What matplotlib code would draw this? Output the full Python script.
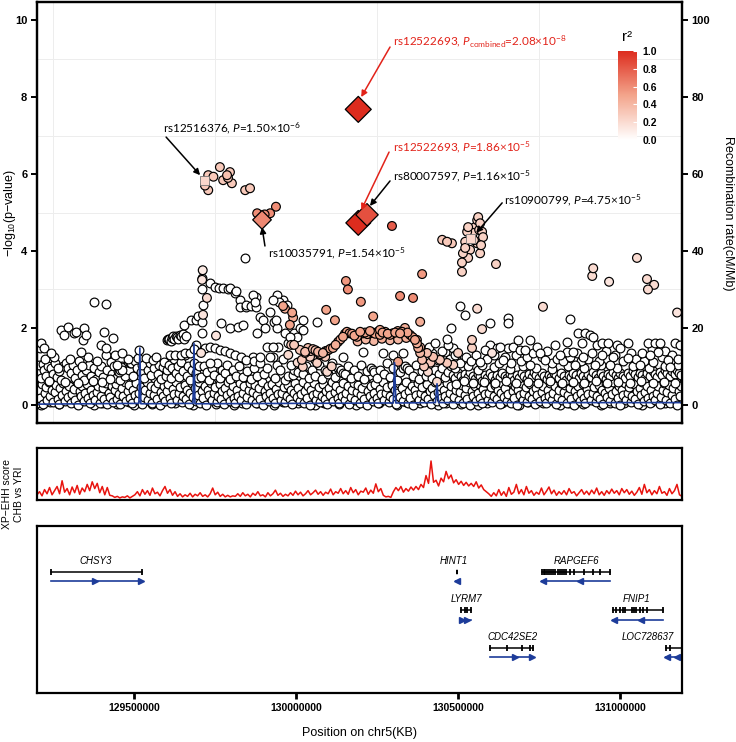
import numpy as np
import matplotlib.pyplot as plt
from matplotlib.colors import LinearSegmentedColormap, Normalize
from matplotlib.colorbar import ColorbarBase

plt.rcParams['font.family'] = ['Liberation Sans', 'DejaVu Sans']
plt.rcParams['mathtext.fontset'] = 'custom'
plt.rcParams['mathtext.rm'] = 'Lato'
plt.rcParams['mathtext.it'] = 'Lato:italic'

# ─────────────────────────────────────────────────────────────
# Data (positions in kb, chr5)
# ─────────────────────────────────────────────────────────────

# white points (r2 ~ 0): dense bottom band
white_low = [
    (129202, .05), (129206, .38), (129211, .18), (129215, .55), (129219, .02), (129224, .30), (129228, .47), (129233, .12),
    (129237, .60), (129242, .22), (129246, .40), (129251, .08), (129255, .33), (129260, .52), (129264, .15), (129269, .02),
    (129273, .44), (129278, .25), (129282, .58), (129287, .10), (129291, .35), (129296, .20), (129300, .50), (129305, .05),
    (129309, .28), (129314, .42), (129318, .14), (129323, .60), (129327, .00), (129332, .36), (129336, .22), (129341, .48),
    (129345, .10), (129350, .30), (129354, .55), (129359, .18), (129363, .04), (129368, .40), (129372, .26), (129377, .62),
    (129381, .12), (129386, .34), (129390, .50), (129395, .06), (129399, .24), (129404, .45), (129408, .15), (129413, .58),
    (129417, .02), (129422, .32), (129426, .20), (129431, .48), (129435, .08), (129440, .38), (129444, .55), (129449, .16),
    (129453, .28), (129458, .03), (129462, .44), (129467, .22), (129471, .60), (129476, .10), (129480, .35), (129485, .52),
    (129489, .18), (129494, .05), (129498, .40), (129503, .25), (129507, .57), (129512, .12), (129516, .32), (129521, .46),
    (129525, .02), (129530, .20), (129534, .38), (129539, .60), (129543, .14), (129548, .30), (129552, .50), (129557, .06),
    (129561, .26), (129566, .43), (129570, .16), (129575, .58), (129579, .00), (129584, .34), (129588, .22), (129593, .48),
    (129597, .10), (129602, .36), (129606, .55), (129611, .18), (129615, .04), (129620, .42), (129624, .28), (129629, .60),
    (129633, .12), (129638, .30), (129642, .46), (129647, .08), (129651, .24), (129656, .52), (129660, .15), (129665, .38),
    (129669, .02), (129674, .32), (129678, .56), (129683, .20), (129687, .44), (129692, .10), (129696, .27), (129701, .60),
    (129705, .05), (129710, .35), (129714, .18), (129719, .50), (129723, .00), (129728, .40), (129732, .25), (129737, .58),
    (129741, .12), (129746, .30), (129750, .47), (129755, .08), (129759, .22), (129764, .54), (129768, .16), (129773, .36),
    (129777, .03), (129782, .44), (129786, .26), (129791, .60), (129795, .10), (129800, .33), (129804, .50), (129809, .18),
    (129813, .06), (129818, .40), (129822, .24), (129827, .56), (129831, .14), (129836, .30), (129840, .48), (129845, .02),
    (129849, .20), (129854, .38), (129858, .58), (129863, .12), (129867, .34), (129872, .52), (129876, .06), (129881, .26),
    (129885, .44), (129890, .16), (129894, .60), (129899, .00), (129903, .36), (129908, .22), (129912, .48), (129917, .10),
    (129921, .30), (129926, .55), (129930, .18), (129935, .04), (129939, .42), (129944, .28), (129948, .60), (129953, .12),
    (129957, .32), (129962, .46), (129966, .08), (129971, .24), (129975, .52), (129980, .15), (129984, .38), (129989, .02),
    (129993, .32), (129998, .56), (130002, .20), (130007, .44), (130011, .10), (130016, .28), (130020, .60), (130025, .05),
    (130029, .35), (130034, .18), (130038, .50), (130043, .00), (130047, .40), (130052, .25), (130056, .58), (130061, .12),
    (130065, .30), (130070, .47), (130074, .08), (130079, .22), (130083, .54), (130088, .16), (130092, .36), (130097, .03),
    (130101, .44), (130106, .26), (130110, .60), (130115, .10), (130119, .33), (130124, .50), (130128, .18), (130133, .06),
    (130137, .40), (130142, .24), (130146, .56), (130151, .14), (130155, .30), (130160, .48), (130164, .02), (130169, .20),
    (130173, .38), (130178, .58), (130182, .12), (130187, .34), (130191, .52), (130196, .06), (130200, .26), (130205, .44),
    (130209, .16), (130214, .60), (130218, .00), (130223, .36), (130227, .22), (130232, .48), (130236, .10), (130241, .30),
    (130245, .55), (130250, .18), (130254, .04), (130259, .42), (130263, .28), (130268, .60), (130272, .12), (130277, .32),
    (130281, .46), (130286, .08), (130290, .24), (130295, .52), (130299, .15), (130304, .38), (130308, .02), (130313, .32),
    (130317, .56), (130322, .20), (130326, .44), (130331, .10), (130335, .28), (130340, .60), (130344, .05), (130349, .35),
    (130353, .18), (130358, .50), (130362, .00), (130367, .40), (130371, .25), (130376, .58), (130380, .12), (130385, .30),
    (130389, .47), (130394, .08), (130398, .22), (130403, .54), (130407, .16), (130412, .36), (130416, .03), (130421, .44),
    (130425, .26), (130430, .60), (130434, .10), (130439, .33), (130443, .50), (130448, .18), (130452, .06), (130457, .40),
    (130461, .24), (130466, .56), (130470, .14), (130475, .30), (130479, .48), (130484, .02), (130488, .20), (130493, .38),
    (130497, .58), (130502, .12), (130506, .34), (130511, .52), (130515, .06), (130520, .26), (130524, .44), (130529, .16),
    (130533, .60), (130538, .00), (130542, .36), (130547, .22), (130551, .48), (130556, .10), (130560, .30), (130565, .55),
    (130569, .18), (130574, .04), (130578, .42), (130583, .28), (130587, .60), (130592, .12), (130596, .32), (130601, .46),
    (130605, .08), (130610, .24), (130614, .52), (130619, .15), (130623, .38), (130628, .02), (130632, .32), (130637, .56),
    (130641, .20), (130646, .44), (130650, .10), (130655, .28), (130659, .60), (130664, .05), (130668, .35), (130673, .18),
    (130677, .50), (130682, .00), (130686, .40), (130691, .25), (130695, .58), (130700, .12), (130704, .30), (130709, .47),
    (130713, .08), (130718, .22), (130722, .54), (130727, .16), (130731, .36), (130736, .03), (130740, .44), (130745, .26),
    (130749, .60), (130754, .10), (130758, .33), (130763, .50), (130767, .18), (130772, .06), (130776, .40), (130781, .24),
    (130785, .56), (130790, .14), (130794, .30), (130799, .48), (130803, .02), (130808, .20), (130812, .38), (130817, .58),
    (130821, .12), (130826, .34), (130830, .52), (130835, .06), (130839, .26), (130844, .44), (130848, .16), (130853, .60),
    (130857, .00), (130862, .36), (130866, .22), (130871, .48), (130875, .10), (130880, .30), (130884, .55), (130889, .18),
    (130893, .04), (130898, .42), (130902, .28), (130907, .60), (130911, .12), (130916, .32), (130920, .46), (130925, .08),
    (130929, .24), (130934, .52), (130938, .15), (130943, .38), (130947, .02), (130952, .32), (130956, .56), (130961, .20),
    (130965, .44), (130970, .10), (130974, .28), (130979, .60), (130983, .05), (130988, .35), (130992, .18), (130997, .50),
    (131001, .00), (131006, .40), (131010, .25), (131015, .58), (131019, .12), (131024, .30), (131028, .47), (131033, .08),
    (131037, .22), (131042, .54), (131046, .16), (131051, .36), (131055, .03), (131060, .44), (131064, .26), (131069, .60),
    (131073, .10), (131078, .33), (131082, .50), (131087, .18), (131091, .06), (131096, .40), (131100, .24), (131105, .56),
    (131109, .14), (131114, .30), (131118, .48), (131123, .02), (131127, .20), (131132, .38), (131136, .58), (131141, .12),
    (131145, .34), (131150, .52), (131154, .06), (131159, .26), (131163, .44), (131168, .16), (131172, .60), (131177, .00),
    (131181, .36), (131186, .22), (131189, .48),
]

# second pass over the bottom band (overlapping circles)
white_base = [
    (129204, .15), (129213, .00), (129222, .42), (129231, .25), (129240, .08), (129249, .50), (129258, .28), (129267, .02),
    (129276, .35), (129285, .18), (129294, .55), (129303, .10), (129312, .30), (129321, .05), (129330, .45), (129339, .20),
    (129348, .62), (129357, .12), (129366, .33), (129375, .00), (129384, .48), (129393, .22), (129402, .06), (129411, .38),
    (129420, .15), (129429, .58), (129438, .26), (129447, .03), (129456, .40), (129465, .18), (129474, .52), (129483, .08),
    (129492, .30), (129501, .00), (129510, .44), (129519, .20), (129528, .65), (129537, .12), (129546, .36), (129555, .02),
    (129564, .48), (129573, .24), (129582, .06), (129591, .40), (129600, .16), (129609, .56), (129618, .28), (129627, .04),
    (129636, .42), (129645, .20), (129654, .62), (129663, .10), (129672, .32), (129681, .00), (129690, .46), (129699, .22),
    (129708, .08), (129717, .38), (129726, .14), (129735, .55), (129744, .26), (129753, .02), (129762, .44), (129771, .18),
    (129780, .60), (129789, .10), (129798, .34), (129807, .00), (129816, .50), (129825, .22), (129834, .06), (129843, .40),
    (129852, .16), (129861, .58), (129870, .28), (129879, .04), (129888, .42), (129897, .20), (129906, .64), (129915, .12),
    (129924, .34), (129933, .00), (129942, .48), (129951, .24), (129960, .08), (129969, .40), (129978, .16), (129987, .56),
    (129996, .28), (130005, .04), (130014, .44), (130023, .20), (130032, .62), (130041, .10), (130050, .32), (130059, .00),
    (130068, .46), (130077, .22), (130086, .06), (130095, .38), (130104, .14), (130113, .55), (130122, .26), (130131, .02),
    (130140, .44), (130149, .18), (130158, .60), (130167, .10), (130176, .34), (130185, .00), (130194, .50), (130203, .22),
    (130212, .06), (130221, .40), (130230, .16), (130239, .58), (130248, .28), (130257, .04), (130266, .42), (130275, .20),
    (130284, .64), (130293, .12), (130302, .34), (130311, .00), (130320, .48), (130329, .24), (130338, .08), (130347, .40),
    (130356, .16), (130365, .56), (130374, .28), (130383, .04), (130392, .44), (130401, .20), (130410, .62), (130419, .10),
    (130428, .32), (130437, .00), (130446, .46), (130455, .22), (130464, .06), (130473, .38), (130482, .14), (130491, .55),
    (130500, .26), (130509, .02), (130518, .44), (130527, .18), (130536, .60), (130545, .10), (130554, .34), (130563, .00),
    (130572, .50), (130581, .22), (130590, .06), (130599, .40), (130608, .16), (130617, .58), (130626, .28), (130635, .04),
    (130644, .42), (130653, .20), (130662, .64), (130671, .12), (130680, .34), (130689, .00), (130698, .48), (130707, .24),
    (130716, .08), (130725, .40), (130734, .16), (130743, .56), (130752, .28), (130761, .04), (130770, .44), (130779, .20),
    (130788, .62), (130797, .10), (130806, .32), (130815, .00), (130824, .46), (130833, .22), (130842, .06), (130851, .38),
    (130860, .14), (130869, .55), (130878, .26), (130887, .02), (130896, .44), (130905, .18), (130914, .60), (130923, .10),
    (130932, .34), (130941, .00), (130950, .50), (130959, .22), (130968, .06), (130977, .40), (130986, .16), (130995, .58),
    (131004, .28), (131013, .04), (131022, .42), (131031, .20), (131040, .64), (131049, .12), (131058, .34), (131067, .00),
    (131076, .48), (131085, .24), (131094, .08), (131103, .40), (131112, .16), (131121, .56), (131130, .28), (131139, .04),
    (131148, .44), (131157, .20), (131166, .62), (131175, .10), (131184, .32),
]

# white points: middle layer (0.6 - 1.3) and LD-block chains
white_mid = [
    (129204, .85), (129208, 1.05), (129213, .70), (129219, 1.07), (129223, .90), (129229, .75), (129236, 1.0), (129244, .96),
    (129250, .80), (129257, 1.1), (129262, .72), (129268, .88), (129275, .65), (129280, 1.02), (129290, 1.1), (129297, .96),
    (129305, .83), (129312, 1.04), (129318, .70), (129325, .92), (129330, 1.15), (129338, .78), (129346, .66), (129352, .90),
    (129360, 1.05), (129368, .74), (129375, .95), (129383, .68), (129392, .85), (129398, 1.0), (129404, .72), (129412, 1.3),
    (129418, .92), (129428, 1.12), (129433, .80), (129438, 1.0), (129445, .70), (129452, .88), (129458, .66), (129463, 1.0),
    (129468, .86), (129472, .75), (129478, 1.0), (129484, .90), (129488, 1.1), (129455, .86), (129457, .92), (129460, .98),
    (129462, .90), (129492, 1.1), (129497, .75), (129503, 1.15), (129508, .95), (129520, .85), (129525, 1.05), (129530, .70),
    (129542, .92), (129548, 1.1), (129553, .78), (129563, .95), (129573, .80), (129578, 1.05), (129583, .68), (129588, .98),
    (129593, 1.12), (129598, .75), (129603, .90), (129608, 1.05), (129613, .70), (129618, .95), (129624, 1.2), (129629, .82),
    (129635, 1.0), (129640, .72), (129646, 1.12), (129652, .88), (129657, 1.3), (129662, .76), (129668, 1.0), (129673, .65),
    (129679, .92), (129684, 1.1), (129690, .83), (129696, .70), (129700, 1.0), (129708, .72), (129716, 1.0), (129724, .85),
    (129732, .66), (129740, .95), (129748, .78), (129756, 1.1), (129764, .70), (129772, .92), (129780, .82), (129788, 1.05),
    (129797, .68), (129805, .90), (129815, .76), (129825, 1.0), (129835, .72), (129850, .88), (129860, .68), (129870, .95),
    (129880, .75), (129900, .80), (129910, .95), (129935, .70), (129940, 1.05), (129950, .90), (129965, .66), (129975, .75),
    (129990, .78), (129995, .90), (130005, .85), (130020, .80), (130030, 1.0), (130040, .70), (130050, .90), (130060, .75),
    (130070, 1.05), (130080, .68), (130090, .92), (130100, .80), (130110, 1.1), (130120, .72), (130130, .95), (130135, .86),
    (130140, .90), (130145, .84), (130150, .80), (130160, 1.0), (130170, .70), (130180, .90), (130190, .76), (130200, 1.05),
    (130210, .68), (130220, .88), (130230, .95), (130236, .90), (130242, .86), (130250, .70), (130260, .90), (130270, .80),
    (130280, 1.1), (130290, .72), (130300, .95), (130310, .66), (130320, .85), (130330, .95), (130336, 1.0), (130342, .96),
    (130350, .90), (130360, .76), (130370, 1.05), (130380, .68), (130390, .88), (130400, .75), (130410, 1.0), (130420, .70),
    (130430, .90), (130440, .80), (130450, .95), (130460, .72), (130470, .85), (130478, 1.0),
    (130485, .78), (130492, .70), (130500, .82), (130508, .75), (130515, .66), (130522, .80), (130530, .72), (130538, .85),
    (130545, .76), (130552, .68), (130560, .80), (130568, .74), (130575, .62), (130583, .78), (130590, .70), (130598, .83),
    (130606, .75), (130613, .66), (130621, .79), (130628, .72), (130636, .84), (130644, .76), (130651, .69), (130659, .81),
    (130666, .74), (130674, .66), (130682, .78), (130689, .71), (130697, .83), (130704, .76), (130712, .68), (130720, .80),
    (130727, .73), (130735, .85), (130742, .77), (130750, .70), (130758, .82), (130765, .75), (130773, .67), (130780, .79),
    (130788, .72), (130796, .84), (130803, .77), (130811, .70), (130818, .82), (130826, .74), (130834, .66), (130841, .79),
    (130849, .72), (130856, .84), (130864, .77), (130872, .70), (130879, .82), (130887, .75), (130894, .68), (130902, .80),
    (130910, .73), (130917, .85), (130925, .78), (130932, .70), (130940, .82), (130948, .75), (130955, .68), (130963, .80),
    (130970, .74), (130978, .86), (130986, .78), (130993, .71), (131001, .83), (131008, .76), (131016, .70), (131024, .82),
    (131031, .75), (131039, .87), (131046, .80), (131054, .72), (131062, .84), (131069, .77), (131077, .70), (131084, .83),
    (131092, .76), (131100, .88), (131107, .80), (131115, .73), (131122, .85), (131130, .78), (131138, .90), (131145, .82),
    (131153, .75), (131160, .87), (131168, .80), (131175, .92), (131183, .84), (131188, .78),
    (130490, .95), (130530, 1.0), (130560, .92), (130610, .98), (130660, .94), (130700, 1.02), (130740, .96), (130790, .93),
    (130840, 1.0), (130890, .95), (130940, 1.05), (130990, .97), (131040, 1.02), (131090, .95), (131140, 1.0), (131180, 1.05),
    (129226, 1.2), (129239, .62), (129253, 1.25), (129266, .95), (129287, .6), (129301, 1.2), (129327, .58), (129341, 1.0),
    (129357, 1.25), (129372, .62), (129387, 1.15), (129401, .6), (129425, .68), (129447, 1.05), (129480, 1.2),
    (130495, 1.2), (130505, 1.1), (130525, 1.25), (130540, 1.15), (130555, 1.3), (130575, 1.05), (130590, 1.2), (130612, 1.3),
    (130625, 1.1), (130645, 1.25), (130662, 1.1), (130678, 1.3), (130695, 1.15), (130712, 1.25), (130730, 1.35), (130760, 1.25),
    (130775, 1.4), (130790, 1.1), (130805, 1.2), (130825, 1.15), (130845, 1.25), (130868, 1.35), (130880, 1.15), (130900, 1.2),
    (130935, 1.15), (130955, 1.4), (130985, 1.3), (131010, 1.15), (131035, 1.35), (131050, 1.2), (131075, 1.15), (131098, 1.45),
    (131130, 1.25), (131140, 1.4), (131160, 1.3), (131178, 1.2),
    (130495, .55), (130518, .62), (130547, .58), (130580, .6), (130615, .56), (130648, .62), (130680, .58), (130715, .6),
    (130748, .56), (130785, .62), (130820, .58), (130855, .6), (130890, .56), (130925, .62), (130960, .58), (130995, .6),
    (131030, .56), (131065, .62), (131100, .58), (131135, .6), (131170, .56),
]

# white points above the main cloud
white_high = [
    (129208, 1.55), (129211, 1.48), (129213, 1.6), (129222, 1.48), (129244, 1.35), (129275, 1.95), (129284, 1.82),
    (129296, 2.03), (129315, 1.87), (129321, 1.9), (129336, 1.37), (129343, 1.69), (129346, 2.0), (129352, 1.82),
    (129377, 2.68), (129398, 1.56), (129407, 1.9), (129414, 1.48), (129414, 2.62), (129435, 1.74), (129440, 1.3),
    (129463, 1.35), (129512, 1.22), (129515, 1.43), (129537, 1.22), (129559, 1.17), (129568, 1.25),
    (129601, 1.68), (129605, 1.72), (129609, 1.7), (129613, 1.66), (129617, 1.74), (129620, 1.78), (129624, 1.7),
    (129628, 1.8), (129632, 1.76), (129636, 1.72), (129641, 1.82), (129645, 1.78), (129650, 1.85), (129655, 1.7),
    (129660, 1.8), (129611, 1.3), (129626, 1.3), (129644, 1.3), (129656, 1.35), (129673, 1.35), (129653, 2.08),
    (129677, 2.2), (129691, 2.2), (129698, 2.3), (129690, 1.55), (129685, 1.45),
    (129710, 3.3), (129710, 3.0), (129712, 2.6), (129710, 2.15), (129711, 1.87), (129735, 3.17), (129750, 3.07),
    (129762, 3.05), (129775, 3.04), (129790, 3.0), (129796, 3.04), (129812, 2.9), (129814, 2.95), (129827, 2.73),
    (129827, 2.55), (129845, 2.55), (129845, 2.6), (129861, 2.57), (129876, 2.8), (129876, 2.55), (129843, 3.82),
    (129769, 2.12), (129796, 2.0), (129821, 2.03), (129836, 2.08), (129889, 2.29), (129920, 2.42), (129932, 2.16),
    (129941, 2.0), (129966, 1.87), (129994, 1.87), (129975, 1.6), (130003, 1.77), (130012, 2.0), (130021, 2.2),
    (129959, 2.73), (129941, 2.85), (129947, 2.68), (129972, 2.6), (129938, 2.2), (129944, 1.5), (129981, 1.77),
    (130021, 1.95), (130065, 2.16), (129867, 2.85), (129873, 2.68), (129898, 2.2), (129904, 2.0), (129929, 2.73),
    (129880, 1.87), (129867, 1.25), (129929, 1.25), (129910, 1.5),
    (129719, 1.48), (129735, 1.5), (129750, 1.47), (129765, 1.43), (129780, 1.4), (129796, 1.35), (129812, 1.3),
    (129830, 1.25), (129846, 1.17), (129870, 1.15), (129889, 1.1), (129890, 1.25), (129920, 1.25), (129930, 1.5),
    (129960, 1.2), (129985, 1.05), (129735, 1.08),
    (130207, 1.38), (130145, 1.25), (130268, 1.35), (130300, 1.3), (130330, 1.35), (130420, 1.35), (130460, 1.38),
    (130485, 1.48), (130475, 1.2), (130437, 1.17), (130410, 1.5), (130430, 1.6), (130450, 1.4), (130470, 1.55),
    (130490, 1.3), (130506, 2.57), (130522, 2.34), (130478, 2.0), (130465, 1.7),
    (130599, 1.56), (130620, 1.48), (130654, 1.48), (130670, 1.5), (130685, 1.69), (130691, 1.43), (130707, 1.43),
    (130722, 1.69), (130744, 1.5), (130753, 1.35), (130836, 1.64), (130836, 1.38), (130855, 1.38), (130870, 1.87),
    (130883, 1.6), (130892, 1.87), (130907, 1.82), (130917, 1.77), (130886, 1.25), (130914, 1.35), (130929, 1.56),
    (130944, 1.3), (130944, 1.6), (130963, 1.6), (130978, 1.25), (130991, 1.56), (131000, 1.48), (131025, 1.6),
    (131025, 1.22), (131068, 1.35), (131086, 1.6), (131108, 1.6), (131123, 1.6), (131117, 1.38), (131102, 1.12),
    (131148, 1.17), (131170, 1.6), (131154, 0.99), (130583, 1.43), (130630, 1.5), (130639, 1.17), (130769, 1.17),
    (130800, 1.56), (130815, 1.3), (130969, 1.04), (131062, 1.04), (131093, 1.3), (131185, 1.56), (130568, 1.12),
    (130722, 1.04), (130861, 1.04), (130923, 1.04), (130599, 2.12), (130654, 2.26), (130654, 2.12), (130846, 2.23),
]

# SNPs in LD with the lead SNP: (kb, -log10 p, r2)
ld_pts = [
    # rs12516376 block
    (129729, 5.97, .30), (129745, 5.93, .30), (129729, 5.58, .30), (129719, 5.70, .30), (129765, 6.18, .30),
    (129775, 5.84, .30), (129787, 5.97, .35), (129796, 6.05, .30), (129790, 5.90, .30), (129802, 5.76, .30),
    (129843, 5.58, .30), (129858, 5.63, .30),
    # rs10035791 block
    (129880, 4.98, .60), (129910, 4.93, .60), (129920, 4.98, .60), (129938, 5.15, .60), (129903, 4.95, .60),
    # faint LD on the left
    (129712, 3.50, .12), (129710, 3.25, .15), (129725, 2.78, .20), (129713, 2.34, .15), (129707, 1.35, .15),
    (129753, 1.80, .15),
    # scattered moderate LD
    (129960, 2.57, .50), (129966, 2.50, .45), (129988, 2.40, .50), (129991, 2.27, .45), (129981, 2.08, .50),
    (129985, 1.56, .30), (130093, 2.47, .50), (130120, 2.20, .50), (130154, 3.22, .55), (130160, 3.00, .60),
    (130200, 2.68, .55), (130238, 2.30, .50), (130321, 2.83, .60), (130361, 2.78, .60), (130383, 2.16, .45),
    (130389, 3.40, .55), (130296, 4.65, .80), (130451, 4.29, .30), (130466, 4.24, .30), (130481, 4.20, .30),
    # LD block chain
    (130018, 1.17, .30), (130028, 1.38, .35), (130037, 1.48, .35), (130045, 1.40, .30), (130052, 1.45, .35),
    (130060, 1.42, .35), (130068, 1.38, .40), (130076, 1.32, .35), (130083, 1.35, .40), (130091, 1.40, .40),
    (130099, 1.42, .40), (130106, 1.46, .45), (130114, 1.48, .45), (130122, 1.56, .45), (130130, 1.64, .45),
    (130137, 1.70, .45), (130145, 1.77, .50), (130151, 1.85, .50), (130157, 1.90, .50), (130165, 1.86, .50),
    (130173, 1.85, .50), (130180, 1.80, .50), (130188, 1.77, .50), (130198, 1.90, .50), (130206, 1.86, .45),
    (130213, 1.88, .50), (130220, 1.84, .45), (130228, 1.92, .50), (130236, 1.88, .45), (130244, 1.85, .50),
    (130252, 1.90, .45), (130259, 1.95, .50), (130267, 1.88, .50), (130275, 1.90, .45), (130283, 1.85, .50),
    (130290, 1.82, .50), (130298, 1.86, .45), (130306, 1.88, .50), (130314, 1.92, .45), (130321, 1.86, .50),
    (130327, 1.90, .50), (130336, 2.00, .45), (130344, 1.88, .50), (130352, 1.82, .45), (130360, 1.76, .50),
    (130367, 1.69, .50), (130373, 1.60, .45), (130377, 1.48, .45), (130383, 1.35, .40), (130389, 1.17, .35),
    (130190, 1.65, .40), (130215, 1.70, .40), (130240, 1.66, .40), (130265, 1.72, .45), (130290, 1.68, .40),
    (130315, 1.70, .40), (130340, 1.74, .45),
    (130373, 1.69, .40), (130383, 1.50, .40), (130404, 1.35, .35), (130423, 1.25, .35), (130444, 1.17, .30),
    (130466, 1.09, .30), (130485, 1.04, .25), (130500, 1.35, .25), (130259, 1.82, .50), (130315, 1.12, .50),
    (130407, 0.86, .20), (130435, 0.60, .20), (130395, 1.00, .30), (130415, 1.10, .30),
    (130012, 1.43, .30), (130028, 1.35, .30), (130043, 1.25, .25), (130059, 1.17, .20), (130074, 1.30, .30),
    (130090, 1.25, .30), (130021, 0.99, .25), (130065, 1.09, .25), (130096, 0.86, .20), (130110, 1.00, .25),
    (129994, 1.56, .30), (130005, 1.10, .20), (129976, 1.30, .20),
    # rs10900799 block
    (130512, 3.46, .25), (130512, 3.70, .25), (130515, 3.94, .25), (130522, 4.08, .25), (130531, 3.82, .25),
    (130537, 4.03, .25), (130546, 4.47, .25), (130552, 4.62, .25), (130559, 4.80, .25), (130562, 4.88, .25),
    (130568, 4.72, .25), (130574, 4.50, .25), (130577, 4.36, .25), (130568, 3.94, .25), (130528, 4.50, .25),
    (130531, 4.62, .25), (130522, 4.24, .25), (130559, 4.20, .25), (130571, 4.15, .25), (130549, 4.28, .25),
    (130565, 4.55, .25), (130617, 3.66, .25), (130762, 2.55, .20), (130559, 2.50, .20), (130574, 1.97, .20),
    (130543, 1.69, .25), (130543, 1.48, .25), (130605, 1.35, .15),
    (130917, 3.55, .20), (130914, 3.35, .20), (130966, 3.20, .15), (131052, 3.82, .20), (131083, 3.27, .20),
    (131105, 3.12, .20), (131086, 3.00, .20), (131176, 2.40, .15),
]

# labelled index SNPs
diamond_kb = [130192, 130192, 130219, 129895]
diamond_logp = [7.68, 4.73, 4.94, 4.81]
diamond_r2 = [1.0, 1.0, 0.85, 0.62]
square_kb = [129719, 130537]
square_logp = [5.82, 4.33]
square_r2 = [0.22, 0.22]

# recombination rate (cM/Mb)
recomb_kb = [129201, 129515, 129518, 129521, 129682, 129685, 129688, 130300, 130304, 130308,
             130430, 130435, 130440, 131191]
recomb_rate = [0.2, 0.4, 14.8, 0.3, 0.4, 16.0, 0.3, 0.5, 11.0, 0.5, 0.6, 5.5, 0.6, 0.6]

# XP-EHH CHB vs YRI, evenly sampled over the window
xpehh = [
    1.0, 1.6, 0.8, 2.0, 1.2, 2.4, 1.0, 1.8, 2.6, 1.2,
    3.7, 1.5, 2.2, 1.0, 2.5, 1.4, 2.8, 1.1, 2.3, 1.6,
    3.0, 1.8, 3.5, 2.2, 3.2, 1.4, 2.6, 1.0, 2.4, 0.9,
    0.8, 0.5, 0.7, 0.4, 0.6, 0.5, 0.8, 0.4, 0.7, 1.0,
    1.6, 0.8, 2.0, 1.1, 1.8, 0.9, 2.3, 1.2, 1.5, 0.8,
    1.8, 2.6, 1.3, 2.0, 0.9, 1.6, 0.7, 1.2, 0.6, 1.0,
    0.7, 1.3, 0.6, 1.1, 0.8, 1.4, 0.7, 1.0, 0.6, 1.2,
    2.3, 1.0, 1.5, 0.7, 1.1, 0.6, 0.9, 0.6, 0.8, 0.7,
    1.2, 0.7, 1.4, 0.8, 1.1, 0.6, 1.3, 0.9, 1.6, 0.8,
    1.0, 0.6, 1.4, 0.8, 1.2, 1.9, 0.9, 1.3, 0.7, 1.1,
    0.8, 1.4, 0.9, 1.7, 1.0, 1.5, 0.8, 1.2, 1.8, 1.0,
    1.4, 1.9, 1.1, 1.6, 0.9, 1.5, 1.2, 2.1, 1.0, 1.6,
    1.3, 2.2, 1.2, 1.8, 1.1, 2.4, 1.4, 2.0, 1.0, 1.7,
    1.5, 2.3, 1.1, 1.9, 1.3, 3.1, 1.6, 2.2, 0.9, 0.6,
    0.7, 0.5, 1.6, 2.4, 1.8, 2.6, 1.5, 2.2, 1.7, 2.5,
    1.9, 2.6, 2.0, 3.0, 2.4, 4.7, 3.2, 7.5, 3.4, 3.8,
    2.7, 4.2, 3.5, 5.5, 4.1, 4.8, 3.3, 3.9, 3.0, 3.6,
    2.8, 3.4, 2.7, 3.2, 2.6, 3.5, 2.3, 2.9, 2.0, 1.6,
    1.2, 0.7, 1.4, 0.8, 2.0, 0.9, 1.6, 0.7, 2.4, 1.1,
    1.5, 3.0, 1.2, 2.0, 1.0, 2.6, 1.3, 1.8, 0.9, 1.5,
    1.1, 2.3, 1.0, 1.7, 2.5, 1.2, 1.9, 0.9, 1.6, 1.1,
    1.8, 1.0, 2.2, 1.3, 1.6, 0.8, 1.4, 2.0, 1.1, 1.7,
    1.0, 1.9, 1.2, 2.3, 1.0, 1.6, 0.9, 1.8, 1.2, 2.1,
    1.3, 1.8, 1.0, 2.2, 1.4, 2.0, 1.1, 1.7, 0.9, 1.5,
    2.4, 1.1, 3.0, 1.4, 2.0, 1.0, 1.8, 1.2, 2.6, 1.3,
    1.6, 0.9, 2.2, 1.2, 1.8, 3.0, 1.0, 0.7,
]

# genes
gene_names = ['CHSY3', 'HINT1', 'LYRM7', 'CDC42SE2', 'RAPGEF6', 'FNIP1', 'LOC728637']
gene_start_kb = [129243, 130495, 130509, 130599, 130759, 130977, 131141]
gene_end_kb = [129524, 130499, 130541, 130731, 130969, 131132, 131230]
gene_row = [0, 0, 1, 2, 0, 1, 2]
gene_strand = ['+', '-', '+', '+', '-', '-', '-']
gene_label_kb = [129383, 130486, 130526, 130667, 130866, 131052, 131087]
gene_exons_kb = [
    [129243, 129524],
    [],
    [130509, 130520, 130528, 130541],
    [130599, 130652, 130697, 130722, 130731],
    [130759, 130764, 130769, 130775, 130780, 130786, 130792, 130800, 130808, 130814, 130820,
     130826, 130833, 130846, 130858, 130889, 130916, 130938, 130969],
    [130977, 130987, 131000, 131008, 131015, 131036, 131043, 131049, 131062, 131072, 131082, 131132],
    [131141, 131153],
]
gene_arrows_kb = [[129380, 129522], [130497], [130512, 130526], [130676, 130727],
                  [130763, 130876], [130982, 131064], [131146, 131176]]

# ─────────────────────────────────────────────────────────────
# Styling
# ─────────────────────────────────────────────────────────────
LD_CMAP = LinearSegmentedColormap.from_list('ld', ['#ffffff', '#f3a58c', '#dd2c1e'])
RED = '#e2231a'
BLUE = '#1d3c9a'
XLIM = (129200600, 131191000)
BOLD = dict(fontsize=8, fontweight='bold')
PT = 40   # circle marker area

fig = plt.figure(figsize=(7.36, 7.42), dpi=100)
L, W = 37 / 736, 645 / 736

# ── Association panel ──
ax = fig.add_axes([L, 1 - 423 / 742, W, 421 / 742])
ax_rec = ax.twinx()
ax_rec.set_zorder(ax.get_zorder() + 1)   # recombination line drawn over the points
ax_rec.patch.set_visible(False)

for gx in [129250000, 129750000, 130250000, 130750000]:
    ax.axvline(gx, color='#ededed', lw=0.7, zorder=0)
for gy in [1, 3, 5, 7, 9]:
    ax.axhline(gy, color='#ededed', lw=0.7, zorder=0)

ax_rec.plot(np.array(recomb_kb) * 1000, recomb_rate, color=BLUE, lw=1.2)
ax_rec.set_ylim(-4.7, 104.7)

wl = np.array(white_base + white_low + white_mid + white_high)
ax.scatter(wl[:, 0] * 1000, wl[:, 1], s=PT, facecolor='white', edgecolor='black', linewidths=0.85, zorder=3)

ld = np.array(ld_pts)
ld = ld[np.argsort(ld[:, 2])]
ax.scatter(ld[:, 0] * 1000, ld[:, 1], c=ld[:, 2], cmap=LD_CMAP, vmin=0, vmax=1, s=PT,
           edgecolor='black', linewidths=0.85, zorder=4)

ax.scatter(np.array(square_kb) * 1000, square_logp, c=square_r2, cmap=LD_CMAP, vmin=0, vmax=1,
           marker='s', s=42, edgecolor='#777777', linewidths=0.6, zorder=5)
ax.scatter(np.array(diamond_kb) * 1000, diamond_logp, c=diamond_r2, cmap=LD_CMAP, vmin=0, vmax=1,
           marker='D', s=[175, 160, 130, 90], edgecolor='black', linewidths=0.9, zorder=6)

ax.set_xlim(*XLIM)
ax.set_ylim(-0.47, 10.47)
ax.set_xticks([])
ax.set_yticks(range(0, 11, 2), labels=[str(v) for v in range(0, 11, 2)], **BOLD)
ax_rec.set_yticks(range(0, 101, 20), labels=[str(v) for v in range(0, 101, 20)], **BOLD)
for a in (ax, ax_rec):
    a.tick_params(axis='y', length=4, width=1.4, pad=3)
    for sp in a.spines.values():
        sp.set_linewidth(1.6)

# annotations: (text, text xy, tail xy, tip xy, colour)
notes = [
    (r'rs12522693, $\it{P}_{\mathdefault{combined}}$=2.08×10$^{\mathdefault{-8}}$',
     (130299, 9.43), (130290, 9.30), (130201, 8.00), RED),
    (r'rs12522693, $\it{P}$=1.86×10$^{\mathdefault{-5}}$',
     (130299, 6.70), (130287, 6.57), (130201, 5.06), RED),
    (r'rs80007597, $\it{P}$=1.16×10$^{\mathdefault{-5}}$',
     (130299, 5.95), (130290, 5.82), (130228, 5.17), 'black'),
    (r'rs10900799, $\it{P}$=4.75×10$^{\mathdefault{-5}}$',
     (130642, 5.32), (130636, 5.25), (130556, 4.47), 'black'),
    (r'rs12516376, $\it{P}$=1.50×10$^{\mathdefault{-6}}$',
     (129590, 7.19), (129599, 6.96), (129704, 5.97), 'black'),
    (r'rs10035791, $\it{P}$=1.54×10$^{\mathdefault{-5}}$',
     (129914, 3.95), (129904, 4.13), (129895, 4.62), 'black'),
]
for txt, (tx, ty), (ax0, ay0), (ax1, ay1), col in notes:
    ax.text(tx * 1000, ty, txt, color=col, fontsize=8.5, family=['Lato', 'DejaVu Sans'],
            ha='left', va='center', zorder=8)
    ax.annotate('', xy=(ax1 * 1000, ay1), xytext=(ax0 * 1000, ay0), zorder=7,
                arrowprops=dict(arrowstyle='-|>', color=col, lw=1.1, mutation_scale=9,
                                shrinkA=0, shrinkB=0))

fig.text(10 / 736, 1 - 213 / 742, '−log$_{\\mathdefault{10}}$(p−value)', rotation=90,
         ha='center', va='center', fontsize=9)
fig.text(728 / 736, 1 - 213 / 742, 'Recombination rate(cM/Mb)', rotation=270,
         ha='center', va='center', fontsize=9)

# r2 colour bar
cax = fig.add_axes([618 / 736, 1 - 140 / 742, 19 / 736, 89 / 742])
cb = ColorbarBase(cax, cmap=LD_CMAP, norm=Normalize(0, 1), ticks=np.arange(0, 1.01, 0.2))
cb.outline.set_visible(False)
cb.set_ticklabels([f'{v:.1f}' for v in np.arange(0, 1.01, 0.2)])
cax.tick_params(direction='in', color='white', length=3, width=0.8, pad=4, labelsize=7.5)
for lab in cax.get_yticklabels():
    lab.set_fontweight('bold')
fig.text(627 / 736, 1 - 37 / 742, 'r²', ha='center', va='center', fontsize=11)

# ── XP-EHH panel ──
ax_x = fig.add_axes([L, 1 - 500 / 742, W, 52 / 742])
ax_x.plot(np.linspace(XLIM[0], XLIM[1], len(xpehh)), xpehh, color='#e8140f', lw=1.1)
ax_x.set_xlim(*XLIM)
ax_x.set_ylim(0, 10)
ax_x.set_xticks([])
ax_x.set_yticks([])
for sp in ax_x.spines.values():
    sp.set_linewidth(1.6)
fig.text(13 / 736, 1 - 494 / 742, 'XP−EHH score\nCHB vs YRI', rotation=90,
         ha='center', va='center', fontsize=7.5, linespacing=1.15)

# ── Gene panel ──
ax_g = fig.add_axes([L, 1 - 693 / 742, W, 167 / 742])
row_y = [7.25, 4.95, 2.7]
for i, name in enumerate(gene_names):
    y = row_y[gene_row[i]]
    s, e = gene_start_kb[i] * 1000, gene_end_kb[i] * 1000
    if e - s < 10000:
        ax_g.plot([s, e], [y, y], color='black', lw=3.2, solid_capstyle='butt')
    else:
        ax_g.plot([s, e], [y, y], color='black', lw=1.1)
    ex = np.array(gene_exons_kb[i]) * 1000
    if len(ex):
        ax_g.plot(ex, [y] * len(ex), ls='none', marker='|', ms=5, mew=1.3, color='black')
    ax_g.plot([s, e], [y - 0.55] * 2, color=BLUE, lw=1.2)
    ar = np.array(gene_arrows_kb[i]) * 1000
    ax_g.plot(ar, [y - 0.55] * len(ar), ls='none', marker='>' if gene_strand[i] == '+' else '<',
              ms=4.5, color=BLUE)
    ax_g.text(gene_label_kb[i] * 1000, y + 0.68, name, style='italic', fontsize=7,
              ha='center', va='center')

ax_g.set_xlim(*XLIM)
ax_g.set_ylim(0, 10)
ax_g.set_yticks([])
xt = [129500000, 130000000, 130500000, 131000000]
ax_g.set_xticks(xt, labels=[str(v) for v in xt], fontsize=7.5, fontweight='bold')
ax_g.tick_params(axis='x', length=4, width=2, pad=3)
for sp in ax_g.spines.values():
    sp.set_linewidth(1.6)
fig.text(360 / 736, 1 - 733 / 742, 'Position on chr5(KB)', ha='center', va='center', fontsize=9)

fig.savefig('out.png', dpi=100)
